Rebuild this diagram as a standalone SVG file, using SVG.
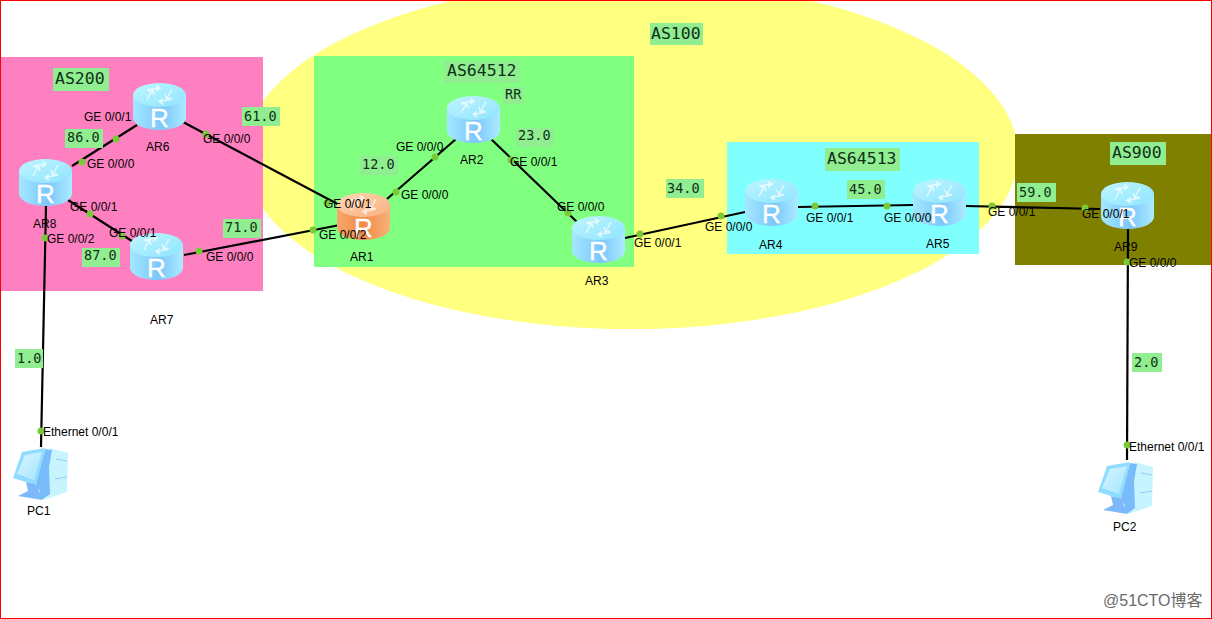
<svg xmlns="http://www.w3.org/2000/svg" width="1212" height="619" viewBox="0 0 1212 619">
<style>
text{font-family:"Liberation Sans",Arial,sans-serif;font-size:12px;fill:#000}
.m{font-family:"DejaVu Sans Mono","Liberation Mono",monospace;font-size:13.5px;fill:#10301a}
.a{font-family:"DejaVu Sans Mono","Liberation Mono",monospace;font-size:16.5px;fill:#10301a}
.b{fill:#90ee90}
.l{stroke:#000;stroke-width:2.2;fill:none}
.d{fill:#7ac936}
.r{font-family:"Liberation Sans",Arial,sans-serif;font-size:26px;fill:#fff;stroke:#fff;stroke-width:.4}
</style>
<defs>
<linearGradient id="bb" x1="0" x2="1" y1="0" y2="0"><stop offset="0" stop-color="#a4e8ff"/><stop offset=".55" stop-color="#7cc6fb"/><stop offset="1" stop-color="#acecff"/></linearGradient>
<linearGradient id="bt" x1="0" x2="1" y1="0" y2="1"><stop offset="0" stop-color="#bdf6ff"/><stop offset="1" stop-color="#90e4ff"/></linearGradient>
<linearGradient id="ob" x1="0" x2="1" y1="0" y2="0"><stop offset="0" stop-color="#f8a868"/><stop offset=".5" stop-color="#f08a48"/><stop offset="1" stop-color="#f8b27a"/></linearGradient>
<linearGradient id="ot" x1="0" x2="1" y1="0" y2="1"><stop offset="0" stop-color="#ffd8b4"/><stop offset="1" stop-color="#f8b080"/></linearGradient>
<linearGradient id="pcg" x1="0" x2="1" y1="0" y2="1"><stop offset="0" stop-color="#d8f6ff"/><stop offset="1" stop-color="#a4e4ff"/></linearGradient>
<g id="sw" fill="none" stroke="#fff" stroke-width="1.5" opacity=".7">
<path d="M14 7 L26 5 M23 2.5 L27 5 L23 8"/><path d="M39 6 L34 15 M32 11 L33.5 16 L38 15"/><path d="M39 16 L27 18.5 M30 21 L26 18.5 L30 15.5"/><path d="M14 17 L19 8 M21 12 L19.5 7 L15 8"/>
</g>
<g id="router">
<path d="M0 12 V35 A26.5 12 0 0 0 53 35 V12 Z" fill="url(#bb)"/>
<ellipse cx="26.5" cy="12" rx="26.5" ry="12" fill="url(#bt)"/>
<use href="#sw"/>
<text class="r" x="17" y="44">R</text>
</g>
<g id="router-o">
<path d="M0 12 V35 A26.5 12 0 0 0 53 35 V12 Z" fill="url(#ob)"/>
<ellipse cx="26.5" cy="12" rx="26.5" ry="12" fill="url(#ot)"/>
<use href="#sw"/>
<text class="r" x="17" y="44">R</text>
</g>
<g id="pc">
<path d="M38 1 L56 6 L55 45 L31 53 L34 40 Z" fill="#c8f4ff"/>
<path d="M33 2 L40 3 L37 20 L38 47 L31 52 L24 36 Z" fill="#78bcfb"/>
<path d="M44 12 L55 14 M43 32 L55 30" stroke="#8fd0f0" stroke-width="1"/>
<path d="M10 5 L33 1 L24 38 L1 31 Z" fill="#8fdcff"/>
<path d="M13 8 L30 5 L22 33 L5 27 Z" fill="url(#pcg)"/>
<path d="M14 35 L26 38 L27 45 L34 47 L30 53 L6 49 L16 44 Z" fill="#7db8fb"/>
</g>
</defs>
<rect width="1212" height="619" fill="#fff"/>
<g id="regions">
<ellipse cx="631" cy="155" rx="387" ry="174" fill="#ffff80"/>
<rect x="0" y="57" width="263" height="234" fill="#ff80c0"/>
<rect x="314" y="56" width="320" height="211" fill="#80ff80"/>
<rect x="727" y="142" width="252" height="112" fill="#80ffff"/>
<rect x="1015" y="134" width="197" height="131" fill="#808000"/>
</g>
<g id="connectors">
<path class="l" d="M137 125 L72 166"/>
<path class="l" d="M183 122 L345 208"/>
<path class="l" d="M68 200 L135 243"/>
<path class="l" d="M184 255 L340 225"/>
<path class="l" d="M387 199 L456 139"/>
<path class="l" d="M491 139 L577 222"/>
<path class="l" d="M625 238 L745 212"/>
<path class="l" d="M798 207 L913 205"/>
<path class="l" d="M965 206 L1100 209"/>
<path class="l" d="M46 206 L41 447"/>
<path class="l" d="M1128 229 L1127 460"/>
</g>
<g id="ar6"><use href="#router" x="133" y="83"/><text x="146" y="151">AR6</text></g>
<g id="ar8"><use href="#router" x="19" y="159"/><text x="33" y="228">AR8</text></g>
<g id="ar7"><use href="#router" x="130" y="233"/><text x="150" y="324">AR7</text></g>
<g id="ar1"><use href="#router-o" x="337" y="193"/><text x="350" y="261">AR1</text></g>
<g id="ar2"><use href="#router" x="447" y="96"/><text x="460" y="164">AR2</text></g>
<g id="ar3"><use href="#router" x="572" y="216"/><text x="585" y="285">AR3</text></g>
<g id="ar4"><use href="#router" x="745" y="179"/><text x="759" y="249">AR4</text></g>
<g id="ar5"><use href="#router" x="913" y="179"/><text x="926" y="248">AR5</text></g>
<g id="ar9"><use href="#router" x="1101" y="182"/><text x="1114" y="251">AR9</text></g>
<g id="pc1"><use href="#pc" x="12" y="447"/><text x="27" y="515">PC1</text></g>
<g id="pc2"><use href="#pc" x="1097" y="461"/><text x="1113" y="531">PC2</text></g>
<g id="ports">
<circle class="d" cx="116" cy="139" r="3.5"/><circle class="d" cx="82" cy="162" r="3.5"/><circle class="d" cx="206" cy="134" r="3.5"/><circle class="d" cx="327" cy="203" r="3.5"/><circle class="d" cx="90" cy="214" r="3.5"/><circle class="d" cx="122" cy="236" r="3.5"/><circle class="d" cx="199" cy="251" r="3.5"/><circle class="d" cx="313" cy="230" r="3.5"/><circle class="d" cx="396" cy="192" r="3.5"/><circle class="d" cx="435" cy="157" r="3.5"/><circle class="d" cx="511" cy="160" r="3.5"/><circle class="d" cx="568" cy="213" r="3.5"/><circle class="d" cx="640" cy="234" r="3.5"/><circle class="d" cx="721" cy="216" r="3.5"/><circle class="d" cx="815" cy="206" r="3.5"/><circle class="d" cx="887" cy="206" r="3.5"/><circle class="d" cx="992" cy="206" r="3.5"/><circle class="d" cx="1085" cy="208" r="3.5"/><circle class="d" cx="45" cy="238" r="3.5"/><circle class="d" cx="41" cy="431" r="3.5"/><circle class="d" cx="1127" cy="262" r="3.5"/><circle class="d" cx="1127" cy="445" r="3.5"/>
<text x="84" y="121">GE 0/0/1</text><text x="87" y="168">GE 0/0/0</text><text x="70" y="211">GE 0/0/1</text><text x="109" y="237">GE 0/0/1</text><text x="47" y="243">GE 0/0/2</text><text x="206" y="261">GE 0/0/0</text><text x="203" y="143">GE 0/0/0</text>
<text x="324" y="208">GE 0/0/1</text><text x="319" y="239">GE 0/0/2</text><text x="401" y="199">GE 0/0/0</text><text x="396" y="151">GE 0/0/0</text><text x="510" y="166">GE 0/0/1</text><text x="557" y="211">GE 0/0/0</text><text x="634" y="247">GE 0/0/1</text>
<text x="705" y="231">GE 0/0/0</text><text x="806" y="222">GE 0/0/1</text><text x="884" y="222">GE 0/0/0</text><text x="988" y="216">GE 0/0/1</text><text x="1082" y="218">GE 0/0/1</text><text x="1129" y="267">GE 0/0/0</text>
<text x="43" y="436">Ethernet 0/0/1</text><text x="1129" y="451">Ethernet 0/0/1</text>
</g>
<g id="labels">
<rect class="b" x="53" y="68" width="56" height="23"/><text class="a" x="55" y="84">AS200</text>
<rect class="b" x="650" y="23" width="53" height="22"/><text class="a" x="651" y="39">AS100</text>
<rect class="b" x="444" y="61" width="76" height="22"/><text class="a" x="447" y="76">AS64512</text>
<rect class="b" x="825" y="148" width="75" height="23"/><text class="a" x="827" y="164">AS64513</text>
<rect class="b" x="1110" y="142" width="56" height="23"/><text class="a" x="1112" y="158">AS900</text>
<rect class="b" x="503" y="87" width="21" height="17"/><text class="m" x="505" y="99">RR</text>
<rect class="b" x="242" y="107" width="38" height="19"/><text class="m" x="244" y="121">61.0</text>
<rect class="b" x="65" y="129" width="38" height="19"/><text class="m" x="67" y="142">86.0</text>
<rect class="b" x="223" y="219" width="38" height="19"/><text class="m" x="225" y="232">71.0</text>
<rect class="b" x="82" y="248" width="38" height="19"/><text class="m" x="84" y="260">87.0</text>
<rect class="b" x="360" y="156" width="38" height="19"/><text class="m" x="362" y="169">12.0</text>
<rect class="b" x="516" y="128" width="38" height="19"/><text class="m" x="518" y="140">23.0</text>
<rect class="b" x="666" y="179" width="38" height="19"/><text class="m" x="667" y="193">34.0</text>
<rect class="b" x="847" y="180" width="38" height="19"/><text class="m" x="849" y="194">45.0</text>
<rect class="b" x="1017" y="183" width="39" height="19"/><text class="m" x="1019" y="197">59.0</text>
<rect class="b" x="15" y="349" width="28" height="19"/><text class="m" x="17" y="363">1.0</text>
<rect class="b" x="1132" y="353" width="30" height="19"/><text class="m" x="1134" y="367">2.0</text>
</g>
<text x="1103" y="606" style="font-family:'Liberation Sans','Noto Sans CJK SC',sans-serif;font-size:16px;fill:#6a6a6a">@51CTO博客</text>
<rect x=".5" y=".5" width="1211" height="618" fill="none" stroke="#f00" stroke-width="1"/>
</svg>
